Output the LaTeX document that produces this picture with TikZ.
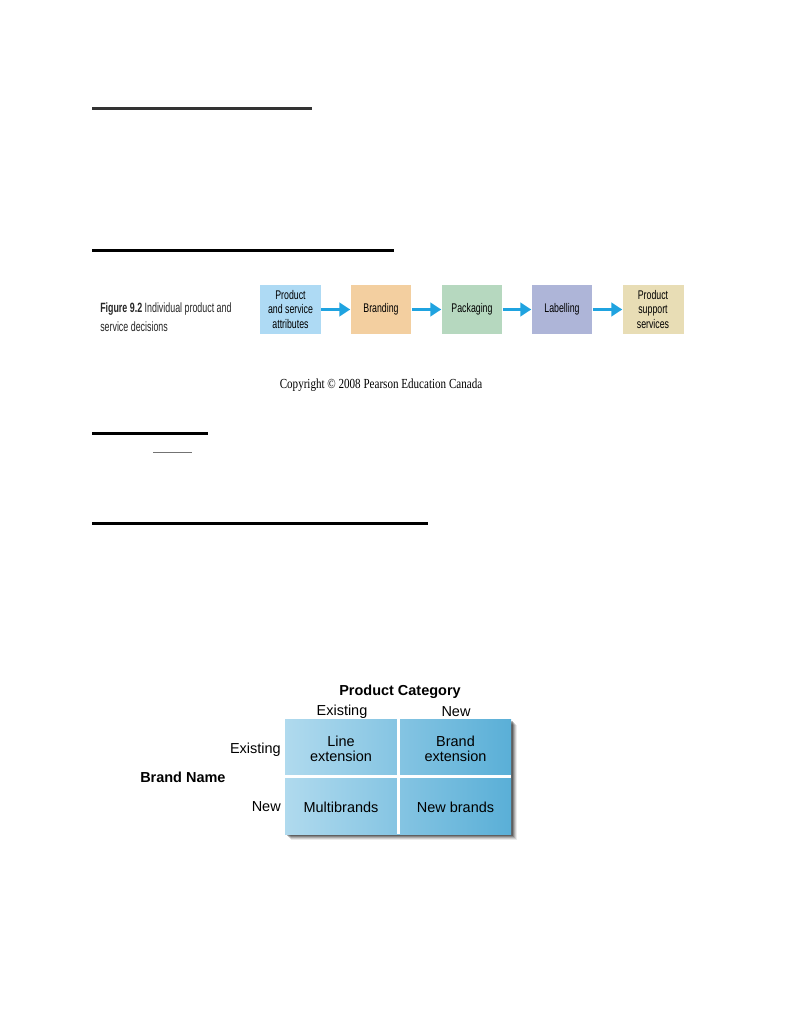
\documentclass[tikz,border=0pt]{standalone}
\usepackage{fontspec}
\setmainfont{Liberation Serif}
\newfontfamily\arialf{Liberation Sans}
\newfontfamily\condf[FakeStretch=0.70]{Liberation Sans}
\newfontfamily\capf[FakeStretch=0.66]{Liberation Sans}
\newfontfamily\timescond[FakeStretch=0.80]{Liberation Serif}
\usetikzlibrary{arrows.meta,positioning}
\definecolor{c1}{HTML}{AEDAF4}
\definecolor{c2}{HTML}{F3CFA0}
\definecolor{c3}{HTML}{B6D8BF}
\definecolor{c4}{HTML}{AEB5D8}
\definecolor{c5}{HTML}{E8DDB5}
\definecolor{arr}{HTML}{1FA3E0}
\definecolor{gl}{HTML}{B0DAEE}
\definecolor{gr}{HTML}{5AAFD7}
\tikzset{
  rule/.style={line width=1.6pt,black},
  flowbox/.style={minimum width=47.6pt,minimum height=38.3pt,inner sep=1pt,align=center,
     font=\condf\fontsize{9.8}{11.3}\selectfont},
  flowarr/.style={line width=2.3pt,arr,-{Triangle[length=8.5pt,width=10.5pt]}},
  cell/.style={minimum width=87pt,minimum height=43.5pt,inner sep=0pt,align=center,
     font=\arialf\fontsize{11.3}{11.5}\selectfont},
  lab/.style={font=\arialf\fontsize{11.3}{12}\selectfont,inner sep=0pt},
  blab/.style={font=\arialf\bfseries\fontsize{11.3}{12}\selectfont,inner sep=0pt}
}
\begin{document}
\begin{tikzpicture}[x=0.7806pt,y=-0.7806pt]
\useasboundingbox[fill=white] (0,0) rectangle (784,1015);
% rules
\draw[rule,black!80] (92,108.5) -- (312,108.5);
\draw[rule] (92,250.5) -- (394,250.5);
\draw[rule] (92,433.5) -- (208,433.5);
\draw[line width=1pt,black!55] (153,452.5) -- (192,452.5);
\draw[rule] (92,523.5) -- (428,523.5);
% figure caption
\node[anchor=west,align=left,inner sep=0pt,font=\capf\fontsize{10.5}{14.8}\selectfont,text=black!85] (cap) at (100,317)
  {{\bfseries Figure 9.2} Individual product and\\service decisions};
% flow boxes
\node[flowbox,fill=c1] (b1) at (290.5,309.5) {Product\\and service\\attributes};
\node[flowbox,fill=c2] (b2) at (381,309.5) {Branding};
\node[flowbox,fill=c3] (b3) at (472,309.5) {Packaging};
\node[flowbox,fill=c4] (b4) at (562,309.5) {Labelling};
\node[flowbox,fill=c5] (b5) at (653,309.5) {Product\\support\\services};
\draw[flowarr] (b1) -- (b2);
\draw[flowarr] (b2) -- (b3);
\draw[flowarr] (b3) -- (b4);
\draw[flowarr] (b4) -- (b5);
% copyright
\node[font=\timescond\fontsize{10.8}{12}\selectfont,inner sep=0pt] (copy) at (381,385.5) {Copyright \textcopyright{} 2008 Pearson Education Canada};
% grid shadow
\foreach \o/\op in {6/0.08,5/0.12,4/0.16,3/0.22,2/0.28}
  \fill[black,opacity=\op] (285+\o,719+\o) rectangle (511+\o,834+\o);
% grid gradient
\shade[left color=gl,right color=gr] (285,719) rectangle (511,834);
\fill[white] (397,719) rectangle (400,834);
\fill[white] (285,775) rectangle (511,778);
\node[cell] (ee) at (341,748.5) {Line\\extension};
\node[cell] (ne) at (455.5,748.5) {Brand\\extension};
\node[cell] (en) at (341,807) {Multibrands};
\node[cell] (nn) at (455.5,807) {New brands};
% labels
\node[blab] (pc) at (400,692) {Product Category};
\node[lab] (ce) at (342,711.5) {Existing};
\node[lab] (cn) at (456,711.5) {New};
\node[lab,anchor=east] (re) at (281,749.5) {Existing};
\node[lab,anchor=east] (rn) at (281,807) {New};
\node[blab,anchor=west] (bn) at (140,777) {Brand Name};
\end{tikzpicture}
\end{document}
